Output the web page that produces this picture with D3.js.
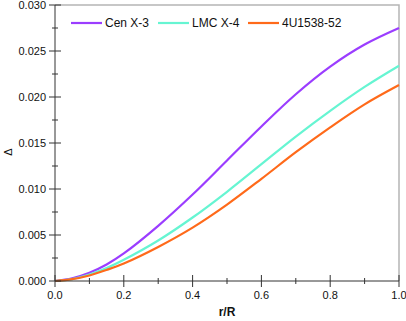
<!DOCTYPE html>
<html>
<head>
<meta charset="utf-8">
<script src="https://cdn.jsdelivr.net/npm/d3@7"></script>
<style>
  body { margin: 0; background: #fff; }
  svg { display: block; font-family: "Liberation Sans", Arial, sans-serif; }
</style>
</head>
<body>
<div id="chart"></div>
<script>
// r/R sample points and Δ for each source
const rR = [0, 0.05, 0.1, 0.15, 0.2, 0.3, 0.4, 0.5, 0.6, 0.7, 0.8, 0.9, 1.0];
const cenX3 = [0, 0.0003, 0.0009, 0.0018, 0.0030, 0.0060, 0.0094, 0.0131, 0.0168, 0.0203, 0.0233, 0.0257, 0.0275];
const lmcX4 = [0, 0.0002, 0.0007, 0.0014, 0.0023, 0.0044, 0.0069, 0.0097, 0.0127, 0.0157, 0.0185, 0.0211, 0.0234];
const u1538 = [0, 0.0002, 0.0006, 0.0012, 0.0019, 0.0037, 0.0058, 0.0083, 0.0111, 0.0140, 0.0167, 0.0192, 0.0213];

const seriesNames = ["Cen X-3", "LMC X-4", "4U1538-52"];
const seriesColors = ["#9b3dff", "#66f5d2", "#ff6a1a"];
const seriesValues = [cenX3, lmcX4, u1538];

const xTicks = [0, 0.2, 0.4, 0.6, 0.8, 1.0];
const yTicks = [0, 0.005, 0.010, 0.015, 0.020, 0.025, 0.030];

const W = 406, H = 321;
const margin = {left: 55, right: 7, top: 5, bottom: 40};

const svg = d3.select("#chart").append("svg")
    .attr("width", W)
    .attr("height", H);

const x = d3.scaleLinear().domain([0, 1]).range([margin.left, W - margin.right]);
const y = d3.scaleLinear().domain([0, 0.03]).range([H - margin.bottom, margin.top]);

// frame on top and right
svg.append("path")
    .attr("d", `M${x(0)},${y(0.03)}H${x(1)}V${y(0)}`)
    .attr("fill", "none")
    .attr("stroke", "#b5b5b5")
    .attr("stroke-width", 1.5);

// curves
const line = d3.line()
    .x(d => x(d[0]))
    .y(d => y(d[1]))
    .curve(d3.curveCatmullRom);

seriesValues.forEach((vals, i) => {
    svg.append("path")
        .datum(rR.map((r, j) => [r, vals[j]]))
        .attr("fill", "none")
        .attr("stroke", seriesColors[i])
        .attr("stroke-width", 2.2)
        .attr("d", line);
});

// axes: major ticks cross the line, minor ticks shorter
const xAxis = svg.append("g").attr("transform", `translate(0,${y(0)})`);
xAxis.append("line")
    .attr("x1", x(0)).attr("x2", x(1))
    .attr("stroke", "#333");
xAxis.selectAll(".minor").data(d3.range(0.1, 1, 0.2))
    .join("line")
    .attr("x1", d => x(d)).attr("x2", d => x(d))
    .attr("y1", -3).attr("y2", 3)
    .attr("stroke", "#333");
xAxis.selectAll(".major").data(xTicks)
    .join("line")
    .attr("x1", d => x(d)).attr("x2", d => x(d))
    .attr("y1", -6).attr("y2", 6)
    .attr("stroke", "#333");
xAxis.selectAll("text").data(xTicks)
    .join("text")
    .attr("x", d => x(d))
    .attr("y", 18)
    .attr("text-anchor", "middle")
    .attr("font-size", 11)
    .attr("fill", "#111")
    .text(d => d.toFixed(1));

const yAxis = svg.append("g").attr("transform", `translate(${x(0)},0)`);
yAxis.append("line")
    .attr("y1", y(0)).attr("y2", y(0.03))
    .attr("stroke", "#333");
yAxis.selectAll(".minor").data(d3.range(0.0025, 0.03, 0.005))
    .join("line")
    .attr("y1", d => y(d)).attr("y2", d => y(d))
    .attr("x1", -3).attr("x2", 3)
    .attr("stroke", "#333");
yAxis.selectAll(".major").data(yTicks)
    .join("line")
    .attr("y1", d => y(d)).attr("y2", d => y(d))
    .attr("x1", -6).attr("x2", 6)
    .attr("stroke", "#333");
yAxis.selectAll("text").data(yTicks)
    .join("text")
    .attr("x", -9)
    .attr("y", d => y(d))
    .attr("dy", "0.35em")
    .attr("text-anchor", "end")
    .attr("font-size", 11)
    .attr("fill", "#111")
    .text(d => d.toFixed(3));

// axis titles
svg.append("text")
    .attr("x", (x(0) + x(1)) / 2)
    .attr("y", 316)
    .attr("text-anchor", "middle")
    .attr("font-size", 12)
    .attr("font-weight", "bold")
    .attr("fill", "#111")
    .text("r/R");

svg.append("text")
    .attr("transform", `translate(12,${(y(0) + y(0.03)) / 2 + 9}) rotate(-90)`)
    .attr("text-anchor", "middle")
    .attr("font-size", 11)
    .attr("fill", "#111")
    .text("Δ");

// legend
const legendX = [71, 158, 248];
const legend = svg.append("g").attr("transform", "translate(0,23)");
seriesNames.forEach((name, i) => {
    legend.append("line")
        .attr("x1", legendX[i]).attr("x2", legendX[i] + 31)
        .attr("stroke", seriesColors[i])
        .attr("stroke-width", 2.2);
    legend.append("text")
        .attr("x", legendX[i] + 34)
        .attr("dy", "0.35em")
        .attr("font-size", 12)
        .attr("fill", "#111")
        .text(name);
});
</script>
</body>
</html>
